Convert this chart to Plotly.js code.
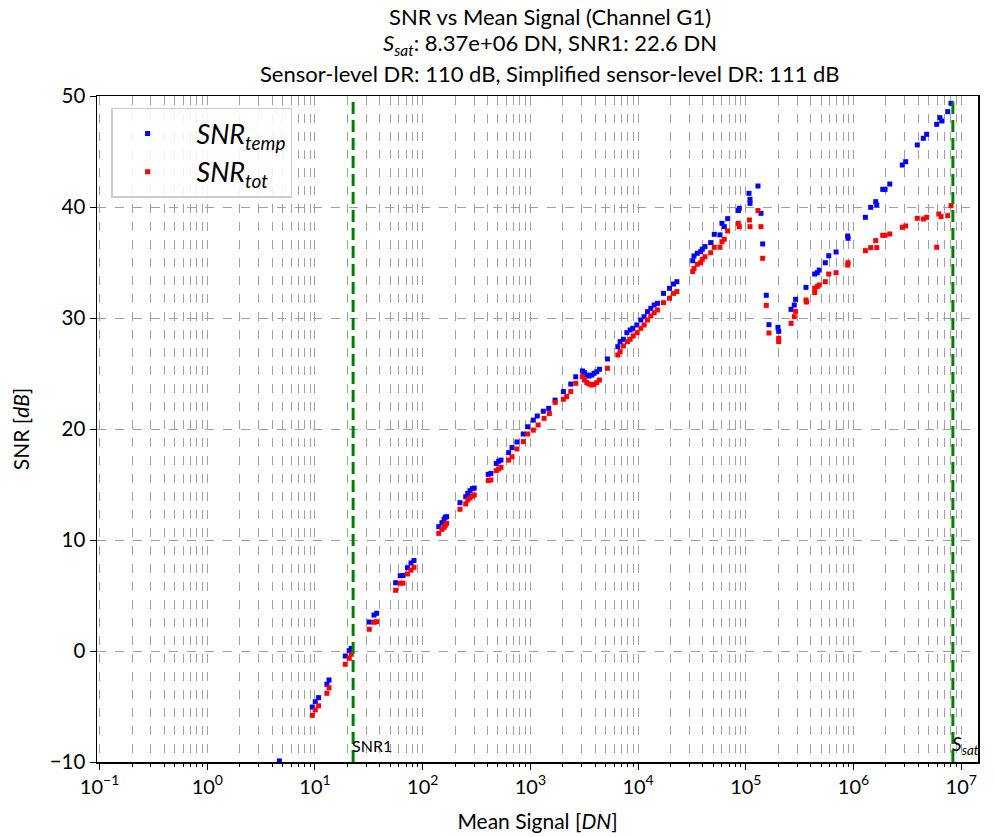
<!DOCTYPE html>
<html>
<head>
<meta charset="utf-8">
<script src="https://cdn.plot.ly/plotly-3.0.1.min.js"></script>
<style>html,body{margin:0;padding:0;background:#fff;}#chart{width:995px;height:837px;}</style>
</head>
<body>
<div id="chart"></div>
<script>
// ---- data ----
const tempX = [4.67, 9.44, 10.06, 10.8, 12.9, 13.5, 19.1, 20.8, 21.7, 31.9, 35.3, 37.4,
  56.1, 61.9, 65.6, 72.2, 77.9, 83, 141, 151, 158, 162, 167, 222, 251, 262, 275, 289, 301,
  406, 430, 482, 508, 533, 628, 675, 750, 859, 944, 1064, 1159, 1318, 1479, 1694,
  2024, 2371, 2637, 3040, 3170, 3339, 3508, 3716, 3906, 4134, 4375, 5190, 6486, 6810, 7311,
  7866, 8440, 8934, 9730, 10600, 11380, 12220, 13130, 14100, 15130, 17210, 19580, 21330, 22920,
  32150, 33040, 35450, 38110, 39450, 41780, 47190, 51000, 57560, 60100, 63120, 67880,
  85180, 87030, 107100, 109400, 109400, 129700, 138300, 143500, 155000, 164100, 199000, 202000,
  263000, 282000, 290000, 362000, 436000, 461000, 481000, 547000, 589000, 689000, 883000, 890000,
  1289000, 1445000, 1607000, 1643000, 1868000, 1963000, 2172000, 2840000, 3050000, 3910000,
  4450000, 4780000, 5920000, 6350000, 6590000, 7500000, 8040000];
const tempY = [-9.9, -5.05, -4.57, -4.2, -3.0, -2.61, -0.45, 0.03, 0.24, 2.61, 3.24, 3.4,
  6.15, 6.78, 6.8, 7.5, 7.93, 8.15, 11.2, 11.56, 11.86, 12.05, 12.1, 13.36, 13.9, 14.2, 14.44, 14.62, 14.68,
  15.92, 16.0, 16.9, 17.1, 17.2, 17.87, 18.33, 18.83, 19.55, 20.2, 20.8, 21.17, 21.6, 21.86, 22.6,
  23.37, 24.05, 24.7, 25.23, 25.08, 24.86, 24.77, 24.86, 25.02, 25.16, 25.38, 26.31, 27.42, 27.87, 28.08,
  28.68, 28.92, 29.07, 29.37, 29.82, 30.12, 30.57, 30.87, 31.17, 31.32, 32.22, 32.67, 33.06, 33.27,
  35.16, 35.59, 35.83, 35.98, 36.2, 36.43, 36.79, 37.54, 37.49, 38.53, 38.23, 38.95,
  39.68, 39.88, 41.23, 40.69, 40.33, 41.89, 39.43, 36.67, 32.05, 29.4, 29.16, 28.8,
  30.78, 31.17, 31.68, 32.76, 33.96, 34.08, 34.32, 34.98, 35.61, 35.95, 37.39, 37.18,
  39.07, 39.97, 40.48, 40.18, 41.59, 41.59, 42.07, 43.78, 44.08, 45.59,
  46.19, 46.55, 47.45, 48.05, 47.75, 48.59, 49.34];

const totX = [9.44, 10.06, 10.8, 12.9, 13.5, 19.1, 20.8, 21.7, 31.9, 35.3, 37.4,
  56.1, 61.9, 65.6, 72.2, 77.9, 83, 141, 151, 158, 162, 167, 222, 251, 262, 275, 289, 301,
  406, 430, 482, 508, 533, 628, 675, 750, 859, 944, 1064, 1180, 1340, 1500, 1700,
  2024, 2173, 2371, 2637, 3040, 3170, 3339, 3508, 3716, 3906, 4134, 4375, 5190, 6486, 6810, 7311,
  7970, 8440, 9000, 9800, 10600, 11380, 12220, 13130, 14100, 15130, 17210, 19580, 21330, 22920,
  32150, 33040, 35450, 38110, 39450, 41780, 47190, 51000, 57560, 60100, 63120, 67880,
  85180, 87030, 108000, 109400, 129700, 138300, 143500, 155000, 164100, 202000, 202000,
  263000, 282000, 290000, 362000, 366000, 436000, 436000, 461000, 481000, 547000, 589000, 689000, 883000, 890000,
  1289000, 1445000, 1607000, 1643000, 1868000, 1963000, 2172000, 2840000, 3050000, 3910000,
  4450000, 4780000, 5920000, 6200000, 6500000, 7500000, 8040000];
const totY = [-5.8, -5.3, -4.94, -3.81, -3.31, -1.2, -0.66, -0.3, 1.96, 2.59, 2.64,
  5.47, 6.11, 6.11, 6.94, 7.28, 7.54, 10.6, 10.96, 11.14, 11.32, 11.5, 12.77, 13.25, 13.6, 13.78, 13.96, 14.05,
  15.35, 15.41, 16.25, 16.4, 16.55, 17.2, 17.5, 18.2, 18.86, 19.55, 19.9, 20.36, 20.96, 21.4, 22.4,
  22.68, 22.92, 23.37, 24.12, 24.72, 24.41, 24.18, 24.05, 23.96, 24.03, 24.18, 24.41, 25.47, 26.67, 26.97, 27.48,
  27.87, 28.08, 28.38, 28.68, 29.07, 29.37, 29.82, 30.18, 30.48, 30.72, 31.38, 31.78, 32.22, 32.38,
  34.18, 34.45, 34.84, 34.98, 35.29, 35.52, 35.88, 36.37, 36.37, 36.87, 37.09, 37.84,
  38.53, 38.23, 38.83, 38.23, 39.68, 38.23, 35.38, 31.14, 28.65, 28.17, 27.87,
  29.52, 30.12, 30.6, 31.62, 31.44, 32.29, 32.68, 32.83, 32.97, 33.27, 33.96, 34.08, 34.77, 34.98,
  36.07, 36.34, 36.97, 36.34, 37.45, 37.45, 37.57, 38.17, 38.29, 38.98,
  38.92, 39.07, 36.37, 39.37, 39.13, 39.22, 40.12];

const SNR1 = 22.6;        // DN
const S_SAT = 8.37e6;     // DN
const yTicks = [-10, 0, 10, 20, 30, 40, 50];
const xTickExps = [-1, 0, 1, 2, 3, 4, 5, 6, 7];
const titleLines = [
  'SNR vs Mean Signal (Channel G1)',
  '<i>S</i><sub><i>sat</i></sub>: 8.37e+06 DN, SNR1: 22.6 DN',
  'Sensor-level DR: 110 dB, Simplified sensor-level DR: 111 dB'
];

const FONT = 'Lato, "Open Sans", sans-serif';
const GRID = '#a0a0a0';

const xTickVals = xTickExps.map(e => Math.pow(10, e));
const xTickText = xTickExps.map(e => '10<sup>' + (e < 0 ? '\u2212' + (-e) : e) + '</sup>');

const traces = [
  {x: tempX, y: tempY, mode: 'markers', type: 'scatter', name: '\u00A0\u00A0<i>SNR</i><sub><i>temp</i></sub>',
   marker: {symbol: 'square', size: 5, color: '#0000ff'}},
  {x: totX, y: totY, mode: 'markers', type: 'scatter', name: '\u00A0\u00A0<i>SNR</i><sub><i>tot</i></sub>',
   marker: {symbol: 'square', size: 5, color: '#ff0000'}},
  {x: [SNR1, SNR1], y: [-10, 50], mode: 'lines', type: 'scatter', showlegend: false, hoverinfo: 'skip',
   line: {color: '#008000', width: 3, dash: '12px,6px'}},
  {x: [S_SAT, S_SAT], y: [-10, 50], mode: 'lines', type: 'scatter', showlegend: false, hoverinfo: 'skip',
   line: {color: '#008000', width: 3, dash: '12px,6px'}}
];

// title lines: centre y (px from top) -> paper coords with plot top 96, bottom 762
const titleY = [17, 44, 73];
const annTitle = titleLines.map((t, i) => ({
  text: t, xref: 'paper', yref: 'paper', x: 0.514, y: (762 - titleY[i]) / 666,
  xanchor: 'center', yanchor: 'middle', showarrow: false,
  font: {family: FONT, size: 22, color: '#000'}
}));

const layout = {
  width: 995, height: 837,
  margin: {l: 97, r: 17, t: 96, b: 75},
  paper_bgcolor: '#fff', plot_bgcolor: '#fff',
  font: {family: FONT, size: 20, color: '#000'},
  showlegend: true,
  legend: {x: 0.016, y: 0.982, xanchor: 'left', yanchor: 'top', bgcolor: 'rgba(255,255,255,0.85)',
           bordercolor: '#cccccc', borderwidth: 1.5, font: {family: FONT, size: 27},
           itemwidth: 60, tracegroupgap: 0},
  xaxis: {
    type: 'log', range: [-1.024, 7.156], tickmode: 'array', tickvals: xTickVals, ticktext: xTickText,
    showline: true, mirror: true, linecolor: '#000', linewidth: 1.5,
    ticks: 'outside', ticklen: 6, tickwidth: 1, tickcolor: '#000',
    showgrid: true, gridcolor: GRID, griddash: 'dash', gridwidth: 1,
    zeroline: false,
    minor: {dtick: 'D1', showgrid: true, gridcolor: GRID, griddash: 'dash', gridwidth: 1,
            ticks: 'outside', ticklen: 3.5, tickcolor: '#000'},
    title: {text: 'Mean Signal [<i>DN</i>]', font: {family: FONT, size: 21}, standoff: 18},
    tickfont: {family: FONT, size: 20}
  },
  yaxis: {
    range: [-10, 50], tickvals: yTicks,
    showline: true, mirror: true, linecolor: '#000', linewidth: 1.5,
    ticks: 'outside', ticklen: 6, tickcolor: '#000',
    showgrid: true, gridcolor: GRID, griddash: 'dash', gridwidth: 1, zeroline: false,
    title: {text: 'SNR [<i>dB</i>]', font: {family: FONT, size: 21}, standoff: 14},
    tickfont: {family: FONT, size: 20.5}
  },
  annotations: annTitle.concat([
    {x: Math.log10(SNR1), y: -8.5, xref: 'x', yref: 'y', text: 'SNR1', showarrow: false,
     xanchor: 'left', xshift: -3, font: {family: FONT, size: 16, color: '#000'}},
    {x: Math.log10(S_SAT), y: -8.5, xref: 'x', yref: 'y', text: '<i>S</i><sub><i>sat</i></sub>', showarrow: false,
     xanchor: 'left', xshift: -3, font: {family: FONT, size: 19, color: '#000'}}
  ])
};

Plotly.newPlot('chart', traces, layout, {displayModeBar: false, staticPlot: true});
</script>
</body>
</html>
